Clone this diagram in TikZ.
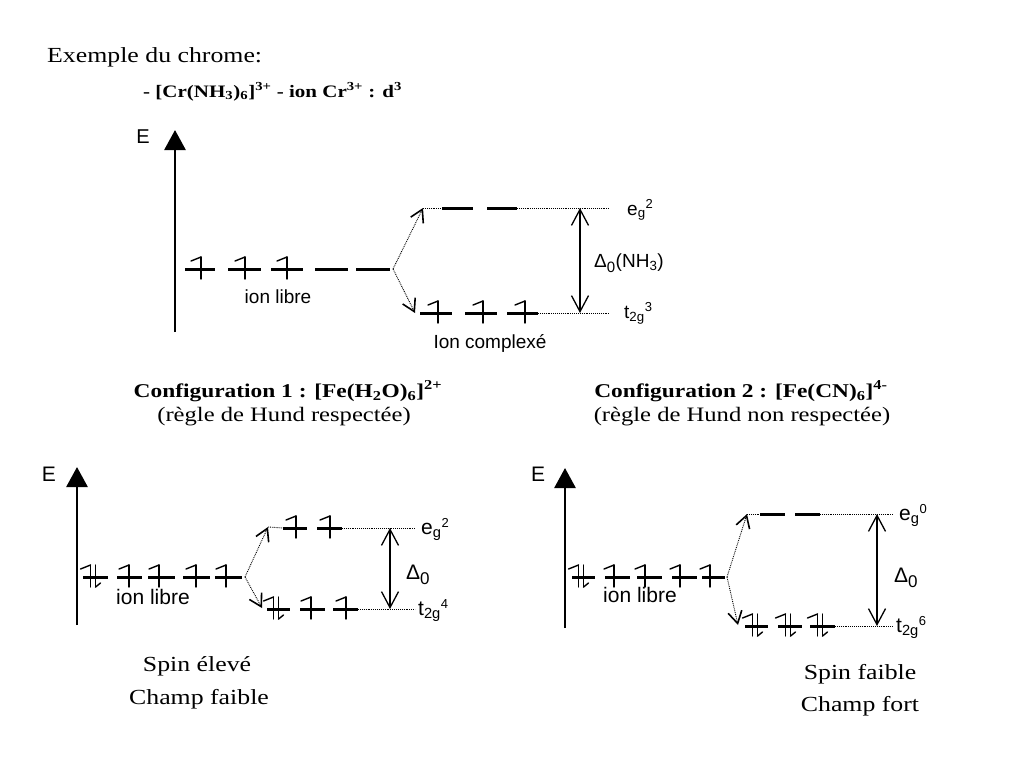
\documentclass[tikz,border=0pt]{standalone}
\usepackage{graphicx}
\usepackage{fontspec}
\setmainfont{Liberation Serif}
\setsansfont{Liberation Sans}
\usetikzlibrary{arrows.meta}
\newcommand{\wide}[1]{\scalebox{1.2}[1]{#1}}
\newcommand{\lvl}[3]{#1\textsubscript{#2}\raisebox{7pt}{\fontsize{13}{13}\selectfont #3}}
\tikzset{
  orb/.style={line width=3pt},
  spin/.style={line width=1.4pt, line cap=round},
  eaxis/.style={line width=2.8pt, -{Triangle[length=20pt,width=21pt]}},
  splitarr/.style={densely dotted, line width=0.9pt, -{Straight Barb[length=12pt,width=14pt,line width=1.6pt]}},
  guide/.style={densely dotted, line width=0.9pt},
  gaparr/.style={line width=1.3pt, {Straight Barb[length=16pt,width=17pt,line width=1.3pt]}-{Straight Barb[length=16pt,width=17pt,line width=1.3pt]}},
  sans/.style={font=\sffamily\fontsize{19}{21}\selectfont, inner sep=0pt},
  bigsans/.style={font=\sffamily\fontsize{21}{23}\selectfont, inner sep=0pt},
  serif/.style={font=\fontsize{21.5}{24}\selectfont, inner sep=0pt},
  boldserif/.style={font=\bfseries\fontsize{19}{22}\selectfont, inner sep=0pt},
  upe/.pic={\draw[spin] (0,-12)--(0,10); \draw[spin] (0,-12)--(-10,-8);},
  dne/.pic={\draw[spin] (0,-12)--(0,10); \draw[spin] (0,10)--(5,6);},
  paire/.pic={\pic at (-2.5,0) {upe}; \pic at (2.5,0) {dne};},
}
\begin{document}
\begin{tikzpicture}[x=1pt,y=-1pt]
\useasboundingbox (0,0) rectangle (1024,768);
\fill[white] (0,0) rectangle (1024,768);

% ---------- titles ----------
\node[serif, anchor=base west] (title) at (47,63) {\wide{Exemple du chrome:}};
\node[boldserif, font=\bfseries\fontsize{17.5}{20}\selectfont, anchor=base west] (cr) at (143,97)
  {\wide{- [Cr(NH\textsubscript{3})\textsubscript{6}]\textsuperscript{3+} - ion Cr\textsuperscript{3+} : d\textsuperscript{3}}};

% ---------- top diagram: Cr ----------
\coordinate (a1b) at (175,332); \coordinate (a1t) at (175,130);
\draw[eaxis] (a1b) -- (a1t);
\node[sans, font=\sffamily\fontsize{20}{22}\selectfont] (E1) at (143,137) {E};
% free ion
\foreach \xa/\xb in {185/215,228/261,271/303,315/348,356/390}
  \draw[orb] (\xa,269) -- (\xb,269);
\foreach \x in {201,245,287} \pic at (\x,269) {upe};
\node[sans] (libre1) at (278,297) {ion libre};
\coordinate (s1) at (393,269);
\coordinate (eg1) at (423,208);
\coordinate (t1) at (415,313);
\draw[splitarr] (s1) -- (eg1);
\draw[splitarr] (s1) -- (t1);
% eg
\coordinate (eg1a) at (442,208); \coordinate (eg1b) at (517,208); \coordinate (eg1e) at (610,208);
\draw[guide] (eg1) -- (eg1a);
\draw[orb] (eg1a) -- (473,208);
\draw[orb] (487,208) -- (eg1b);
\draw[guide] (eg1b) -- (eg1e);
% t2g
\coordinate (t1a) at (420,313); \coordinate (t1b) at (538,313); \coordinate (t1e) at (610,313);
\draw[orb] (t1a) -- (452,313);
\draw[orb] (465,313) -- (497,313);
\draw[orb] (507,313) -- (t1b);
\foreach \x in {438,483,525} \pic at (\x,313) {upe};
\draw[guide] (t1b) -- (t1e);
\coordinate (d1t) at (580,208); \coordinate (d1b) at (580,313);
\draw[gaparr] (d1t) -- (d1b);
\node[sans, anchor=west] (D1) at (594,263) {Δ\textsubscript{\fontsize{15}{15}\selectfont 0}(NH\textsubscript{3})};
\node[sans, anchor=base west] (egl1) at (627,215) {\lvl{e}{g}{2}};
\node[sans, anchor=base west] (tl1) at (624,318) {\lvl{t}{2g}{3}};
\node[sans] (cplx) at (490,343) {Ion complexé};

% ---------- headers ----------
\node[boldserif, font=\bfseries\fontsize{19.5}{22}\selectfont, anchor=base] (c1) at (288,397)
  {\wide{Configuration 1 : [Fe(H\textsubscript{2}O)\textsubscript{6}]\textsuperscript{2+}}};
\node[serif, font=\fontsize{20.5}{22}\selectfont, anchor=base] (c1b) at (284,421)
  {\wide{(règle de Hund respectée)}};
\node[boldserif, font=\bfseries\fontsize{19.5}{22}\selectfont, anchor=base] (c2) at (741,397)
  {\wide{Configuration 2 : [Fe(CN)\textsubscript{6}]\textsuperscript{4-}}};
\node[serif, font=\fontsize{20.5}{22}\selectfont, anchor=base] (c2b) at (742,421)
  {\wide{(règle de Hund non respectée)}};

% ---------- bottom-left: high spin ----------
\coordinate (a2b) at (77,625); \coordinate (a2t) at (77,467);
\draw[eaxis] (a2b) -- (a2t);
\node[bigsans] (E2) at (49,474) {E};
\foreach \xa/\xb in {83/108,117/142,148/175,183/210,215/242}
  \draw[orb] (\xa,577) -- (\xb,577);
\pic at (93,577) {paire};
\foreach \x in {129,159,196,226} \pic at (\x,577) {upe};
\node[bigsans] (libre2) at (153,597) {ion libre};
\coordinate (s2) at (245,577);
\coordinate (eg2) at (268,527);
\coordinate (t2) at (262,608);
\draw[splitarr] (s2) -- (eg2);
\draw[splitarr] (s2) -- (t2);
\coordinate (eg2a) at (283,528); \coordinate (eg2b) at (342,528); \coordinate (eg2e) at (415,528);
\draw[guide] (eg2) -- (eg2a);
\draw[orb] (eg2a) -- (307,528);
\draw[orb] (317,528) -- (eg2b);
\foreach \x in {296,330} \pic at (\x,528) {upe};
\draw[guide] (eg2b) -- (eg2e);
\coordinate (t2a) at (267,609); \coordinate (t2b) at (358,609); \coordinate (t2e) at (415,609);
\draw[orb] (t2a) -- (290,609);
\draw[orb] (300,609) -- (325,609);
\draw[orb] (333,609) -- (t2b);
\pic at (276,609) {paire};
\foreach \x in {311,346} \pic at (\x,609) {upe};
\draw[guide] (t2b) -- (t2e);
\coordinate (d2t) at (390,528); \coordinate (d2b) at (390,609);
\draw[gaparr] (d2t) -- (d2b);
\node[bigsans, anchor=west] (D2) at (406,575) {Δ\textsubscript{\fontsize{17}{17}\selectfont 0}};
\node[bigsans, anchor=base west] (egl2) at (421,534) {\lvl{e}{g}{2}};
\node[bigsans, anchor=base west] (tl2) at (418,615) {\lvl{t}{2g}{4}};
\node[serif, anchor=base] (sp1) at (197,671) {\wide{Spin élevé}};
\node[serif, anchor=base] (ch1) at (199,704) {\wide{Champ faible}};

% ---------- bottom-right: low spin ----------
\coordinate (a3b) at (565,628); \coordinate (a3t) at (565,468);
\draw[eaxis] (a3b) -- (a3t);
\node[bigsans] (E3) at (538,474) {E};
\foreach \xa/\xb in {572/595,605/630,637/662,672/697,702/725}
  \draw[orb] (\xa,577) -- (\xb,577);
\pic at (581,577) {paire};
\foreach \x in {614,645,680,710} \pic at (\x,577) {upe};
\node[bigsans] (libre3) at (640,595) {ion libre};
\coordinate (s3) at (727,577);
\coordinate (eg3) at (747,514);
\coordinate (t3) at (738,625);
\draw[splitarr] (s3) -- (eg3);
\draw[splitarr] (s3) -- (t3);
\coordinate (eg3a) at (760,514); \coordinate (eg3b) at (820,514); \coordinate (eg3e) at (893,514);
\draw[guide] (eg3) -- (eg3a);
\draw[orb] (eg3a) -- (785,514);
\draw[orb] (795,514) -- (eg3b);
\draw[guide] (eg3b) -- (eg3e);
\coordinate (t3a) at (745,626); \coordinate (t3b) at (835,626); \coordinate (t3e) at (893,626);
\draw[orb] (t3a) -- (768,626);
\draw[orb] (778,626) -- (802,626);
\draw[orb] (810,626) -- (t3b);
\foreach \x in {755,788,820} \pic at (\x,626) {paire};
\draw[guide] (t3b) -- (t3e);
\coordinate (d3t) at (877,514); \coordinate (d3b) at (877,626);
\draw[gaparr] (d3t) -- (d3b);
\node[bigsans, anchor=west] (D3) at (894,578) {Δ\textsubscript{\fontsize{17}{17}\selectfont 0}};
\node[bigsans, anchor=base west] (egl3) at (899,520) {\lvl{e}{g}{0}};
\node[bigsans, anchor=base west] (tl3) at (896,632) {\lvl{t}{2g}{6}};
\node[serif, anchor=base] (sp2) at (860,679) {\wide{Spin faible}};
\node[serif, anchor=base] (ch2) at (860,711) {\wide{Champ fort}};
\end{tikzpicture}
\end{document}
